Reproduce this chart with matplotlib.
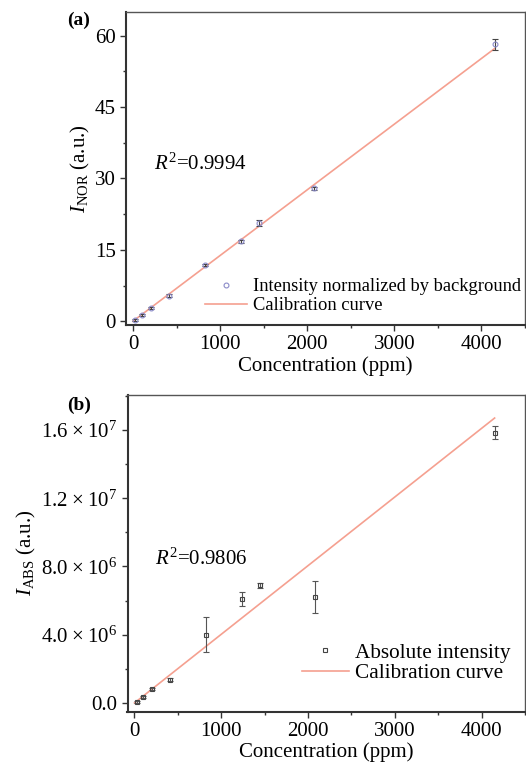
import matplotlib.pyplot as plt
import numpy as np
from matplotlib.lines import Line2D
from matplotlib.ticker import MultipleLocator, FuncFormatter

plt.rcParams["font.family"] = "Liberation Serif"
plt.rcParams["mathtext.fontset"] = "custom"
plt.rcParams["mathtext.rm"] = "Liberation Serif"
plt.rcParams["mathtext.it"] = "Liberation Serif:italic"
plt.rcParams["mathtext.bf"] = "Liberation Serif:bold"

# concentrations (ppm)
conc = [25, 100, 205, 410, 830, 1240, 1450, 2075, 4150]

# (a) intensity normalized by background
i_nor = [0.2, 1.3, 2.7, 5.4, 11.8, 16.8, 20.6, 27.9, 58.2]
i_nor_err = [0.2, 0.2, 0.2, 0.3, 0.3, 0.3, 0.6, 0.4, 1.1]
fit_a_x = [0, 4150]
fit_a_y = [0.0, 57.3]
r2_a = "0.9994"

# (b) absolute intensity
i_abs = [0.05e6, 0.35e6, 0.82e6, 1.36e6, 4.0e6, 6.11e6, 6.89e6, 6.2e6, 15.85e6]
i_abs_err = [0.05e6, 0.05e6, 0.08e6, 0.08e6, 1.04e6, 0.4e6, 0.15e6, 0.92e6, 0.4e6]
fit_b_x = [0, 4150]
fit_b_y = [0.0, 16.7e6]
r2_b = "0.9806"

line_col = "#f5a090"
spine_col = "#333333"


def sci_fmt(v, pos):
    if v == 0:
        return "0.0"
    e = int(np.floor(np.log10(abs(v))))
    m = v / 10 ** e
    return f"{m:.1f}\u2009×\u200910$^{{{e}}}$"


def style_axes(ax):
    for s in ["left", "bottom"]:
        ax.spines[s].set_color(spine_col)
        ax.spines[s].set_linewidth(1.5)
    for s in ["top", "right"]:
        ax.spines[s].set_color("#555555")
        ax.spines[s].set_linewidth(1.0)
    ax.tick_params(which="both", direction="out", top=False, right=False,
                   color=spine_col, labelsize=15, width=1)
    ax.tick_params(which="major", length=4)
    ax.tick_params(which="minor", length=2.5)
    ax.xaxis.set_major_locator(MultipleLocator(1000))
    ax.xaxis.set_minor_locator(MultipleLocator(500))
    ax.set_xlim(-80, 4500)
    ax.set_xlabel("Concentration (ppm)", fontsize=15, labelpad=1)


fig = plt.figure(figsize=(5.26, 7.63), dpi=100)
W, H = 526, 763
ax1 = fig.add_axes([126 / W, 1 - 325 / H, (525 - 126) / W, (325 - 12) / H])
ax2 = fig.add_axes([127.5 / W, 1 - 711.5 / H, (525 - 127.5) / W, (711.5 - 395) / H])

# panel (a)
ax1.plot(fit_a_x, fit_a_y, color=line_col, lw=1.2, zorder=2)
ax1.errorbar(conc, i_nor, yerr=i_nor_err, fmt="o", ms=3.5, mfc="none", mec="#8a8ac8",
             mew=0.8, ecolor="#444444", elinewidth=0.8, capsize=2, capthick=0.8, zorder=3)
ax1.set_ylim(-0.8, 65)
ax1.yaxis.set_major_locator(MultipleLocator(15))
ax1.yaxis.set_minor_locator(MultipleLocator(7.5))
style_axes(ax1)
ax1.set_ylabel("$I_{\\mathrm{NOR}}$ (a.u.)", fontsize=15, labelpad=2)
ax1.text(0.07, 0.495, f"$R^{{2}}$={r2_a}", transform=ax1.transAxes, fontsize=15)
ha = [Line2D([], [], ls="none", marker="o", ms=3.5, mfc="none", mec="#8a8ac8", mew=0.8),
      Line2D([], [], color=line_col, lw=1.2)]
ax1.legend(ha, ["Intensity normalized by background", "Calibration curve"],
           loc="lower right", frameon=False, fontsize=13.3,
           handlelength=2.3, handletextpad=0.3, borderaxespad=0.1,
           bbox_to_anchor=(1.012, 0.005), labelspacing=0.1)
fig.text(67 / W, 1 - 20 / H, "(a)", fontsize=14, fontweight="bold", va="center")

# panel (b)
ax2.plot(fit_b_x, fit_b_y, color=line_col, lw=1.2, zorder=2)
ax2.errorbar(conc, i_abs, yerr=i_abs_err, fmt="s", ms=3.5, mfc="none", mec="#444444",
             mew=0.8, ecolor="#555555", elinewidth=0.8, capsize=2, capthick=0.8, zorder=3)
ax2.set_ylim(-0.5e6, 1.805e7)
ax2.yaxis.set_major_locator(MultipleLocator(4e6))
ax2.yaxis.set_minor_locator(MultipleLocator(2e6))
ax2.yaxis.set_major_formatter(FuncFormatter(sci_fmt))
style_axes(ax2)
ax2.set_ylabel("$I_{\\mathrm{ABS}}$ (a.u.)", fontsize=15, labelpad=2)
ax2.text(0.07, 0.465, f"$R^{{2}}$={r2_b}", transform=ax2.transAxes, fontsize=15)
hb = [Line2D([], [], ls="none", marker="s", ms=3.5, mfc="none", mec="#444444", mew=0.8),
      Line2D([], [], color=line_col, lw=1.2)]
ax2.legend(hb, ["Absolute intensity", "Calibration curve"],
           loc="lower right", frameon=False, fontsize=15.3,
           handlelength=2.2, handletextpad=0.3, borderaxespad=0.1,
           bbox_to_anchor=(0.99, 0.055), labelspacing=0.05)
fig.text(67 / W, 1 - 405 / H, "(b)", fontsize=14, fontweight="bold", va="center")

fig.savefig("out.png", dpi=100)
